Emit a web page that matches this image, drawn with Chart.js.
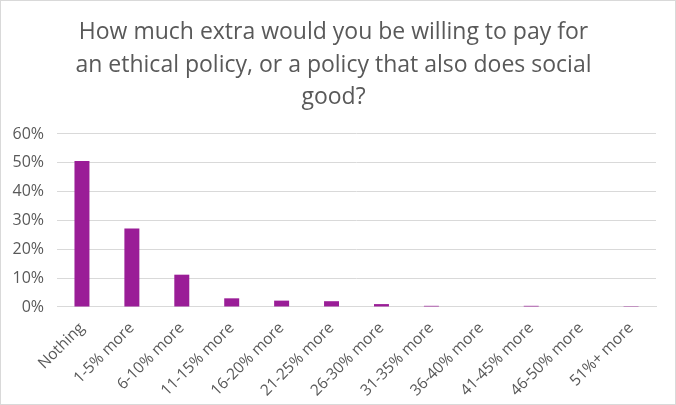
<!DOCTYPE html>
<html>
<head>
<meta charset="utf-8">
<script src="https://cdn.jsdelivr.net/npm/chart.js@4"></script>
<style>
  html, body { margin: 0; padding: 0; background: #fff; }
  #wrap { width: 674px; height: 403px; border: 1px solid #d9d9d9; }
</style>
</head>
<body>
<div id="wrap"><canvas id="payChart" width="674" height="403"></canvas></div>
<script>
const categories = ["Nothing", "1-5% more", "6-10% more", "11-15% more", "16-20% more", "21-25% more",
    "26-30% more", "31-35% more", "36-40% more", "41-45% more", "46-50% more", "51%+ more"];
const shares = [50.6, 27.2, 11.2, 3.0, 2.2, 2.0, 1.0, 0.4, 0, 0.4, 0, 0.3];
const titleLines = ["How much extra would you be willing to pay for",
    "an ethical policy, or a policy that also does social", "good?"];

const ctx = document.getElementById("payChart");
new Chart(ctx.getContext("2d"), {
    type: "bar",
    data: {
        labels: categories,
        datasets: [{ label: "Share", data: shares, backgroundColor: "#9a1d97",
            barPercentage: 0.3, categoryPercentage: 1 }]
    },
    options: {
        responsive: false,
        animation: false,
        layout: { padding: { left: 10, right: 19, top: 15, bottom: 0 } },
        plugins: {
            legend: { display: false },
            tooltip: { enabled: false },
            title: {
                display: true,
                text: titleLines,
                color: "#595959",
                font: { family: "'Open Sans', sans-serif", size: 23, weight: "normal", lineHeight: 1.42 },
                padding: { top: 0, bottom: 20 }
            }
        },
        scales: {
            x: {
                grid: { display: false },
                border: { color: "#d9d9d9" },
                ticks: { color: "#595959", font: { family: "'Open Sans', sans-serif", size: 15.5 },
                    maxRotation: 45, minRotation: 45, autoSkip: false, padding: 4 },
                // don't let the rotated first label widen the left margin
                afterFit: s => { s.paddingLeft = 0; }
            },
            y: {
                min: 0, max: 60,
                grid: { color: "#d9d9d9", drawTicks: false },
                border: { display: false },
                ticks: { stepSize: 10, color: "#595959", padding: 13,
                    font: { family: "'Open Sans', sans-serif", size: 16 },
                    callback: v => v + "%" },
                afterFit: s => { s.width = 46; }
            }
        }
    }
});
</script>
</body>
</html>
